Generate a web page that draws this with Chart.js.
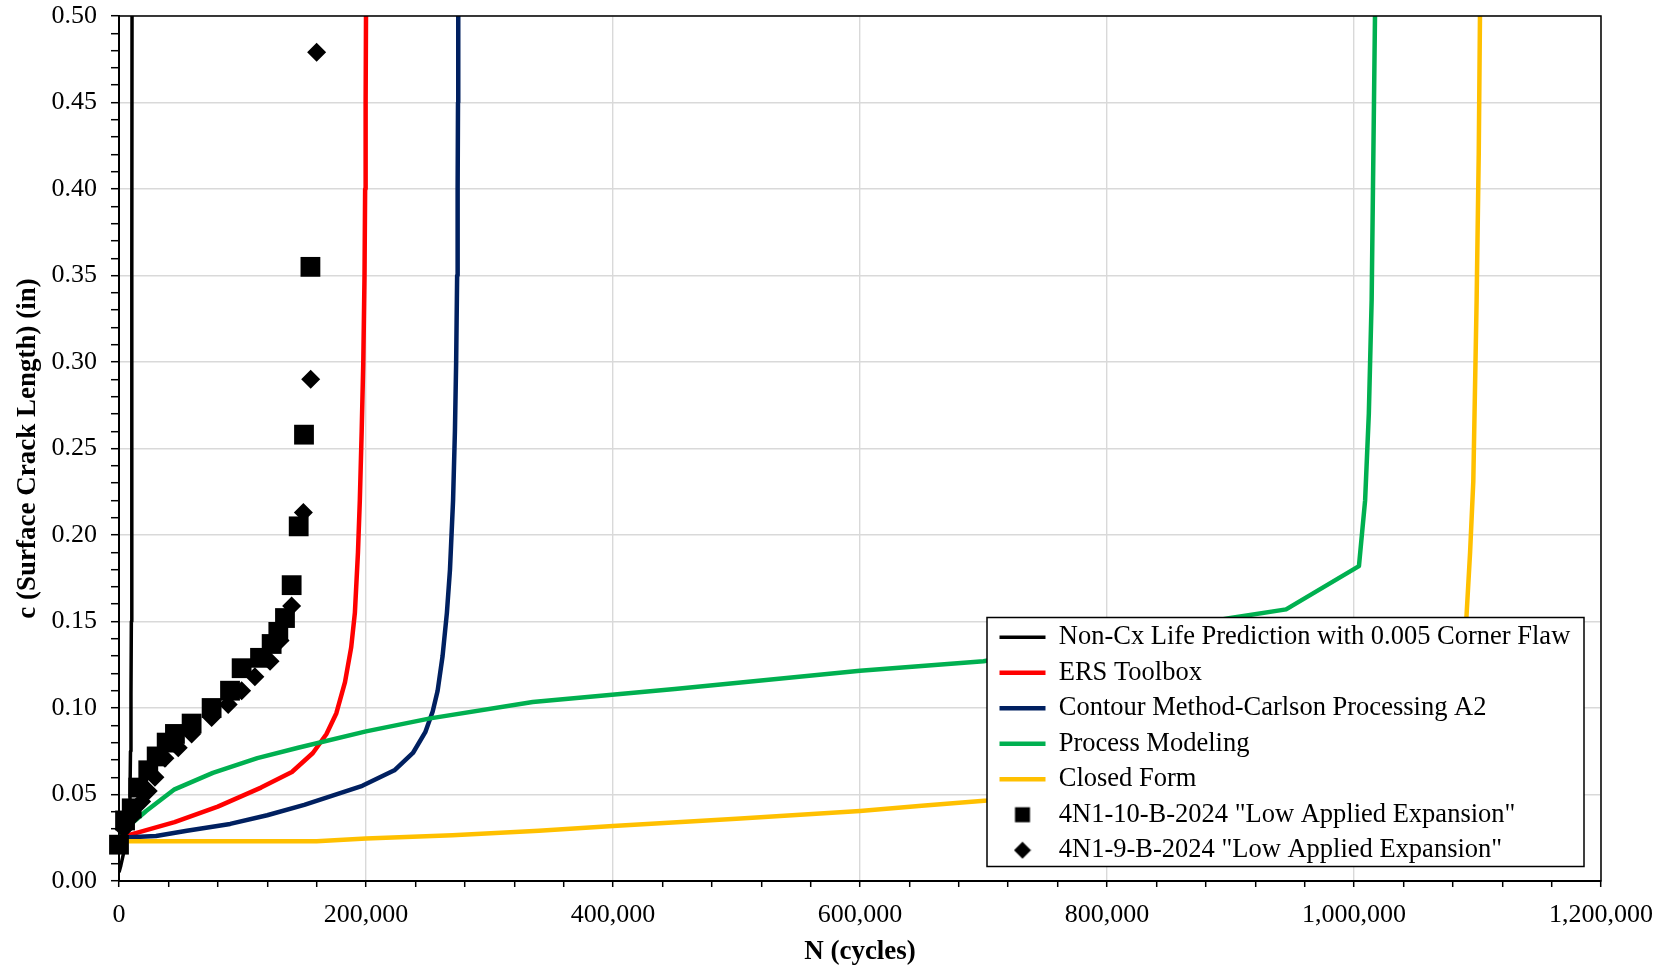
<!DOCTYPE html>
<html>
<head>
<meta charset="utf-8">
<title>Surface crack growth vs. cycles</title>
<script src="https://cdn.jsdelivr.net/npm/chart.js@4.4.1/dist/chart.umd.min.js"></script>
<style>
  html, body { margin: 0; padding: 0; background: #ffffff; }
  canvas { display: block; }
</style>
</head>
<body>
<canvas id="crack" width="1667" height="966"></canvas>
<script>
// ---- Prediction curves: cycles (N) and surface crack length c (in) ----
const nonCxN = [0, 1500, 4000, 6000, 7200, 8300, 8900, 9300, 9700, 10000, 10200, 10400, 10500, 10550];
const nonCxC = [0.005, 0.009, 0.017, 0.025, 0.030, 0.040, 0.050, 0.075, 0.108, 0.150, 0.190, 0.250, 0.350, 0.500];

const ersN = [0, 20000, 45000, 80000, 115000, 140000, 157000, 168000, 176000, 183000, 188000, 191000, 193500, 195000, 196500, 197800, 198800, 199300, 199700, 200000];
const ersC = [0.025, 0.029, 0.034, 0.043, 0.054, 0.063, 0.074, 0.085, 0.097, 0.115, 0.135, 0.155, 0.190, 0.220, 0.260, 0.300, 0.350, 0.400, 0.450, 0.500];

const contourN = [0, 30000, 55000, 90000, 120000, 150000, 197000, 223000, 238000, 248000, 254000, 258000, 262000, 265500, 268000, 270500, 272000, 273000, 273800, 274200, 274500, 274700];
const contourC = [0.025, 0.026, 0.029, 0.033, 0.038, 0.044, 0.055, 0.064, 0.074, 0.086, 0.098, 0.110, 0.130, 0.155, 0.180, 0.220, 0.260, 0.300, 0.350, 0.400, 0.450, 0.500];

const processN = [0, 10000, 22000, 45000, 76000, 112000, 145000, 200000, 252000, 335000, 450000, 600000, 700000, 900000, 945000, 1004000, 1009000, 1012000, 1014300, 1017000];
const processC = [0.025, 0.033, 0.0405, 0.053, 0.0625, 0.071, 0.077, 0.0865, 0.094, 0.1035, 0.111, 0.1215, 0.127, 0.152, 0.157, 0.182, 0.220, 0.270, 0.336, 0.500];

const closedN = [0, 160000, 200000, 270000, 340000, 400000, 500000, 600000, 650000, 703000, 1000000, 1080000, 1091000, 1094000, 1096600, 1099300, 1101000, 1102000];
const closedC = [0.023, 0.023, 0.0245, 0.0265, 0.029, 0.0318, 0.036, 0.0405, 0.0435, 0.0465, 0.070, 0.120, 0.152, 0.190, 0.231, 0.336, 0.420, 0.500];

// ---- Test measurements ----
const spec10N = [0, 4900, 10300, 15600, 23700, 30500, 38600, 45300, 58800, 75000, 89900, 99300, 114200, 123600, 129000, 134400, 139800, 145500, 149800, 155000];
const spec10C = [0.021, 0.035, 0.042, 0.054, 0.064, 0.072, 0.080, 0.085, 0.091, 0.100, 0.110, 0.123, 0.129, 0.137, 0.144, 0.152, 0.171, 0.205, 0.258, 0.355];

const spec9N = [4000, 10300, 18300, 23700, 29100, 37200, 48000, 58800, 75000, 88400, 99300, 110000, 122300, 130400, 139800, 149300, 155200, 160000];
const spec9C = [0.030, 0.037, 0.046, 0.052, 0.060, 0.071, 0.077, 0.085, 0.0945, 0.102, 0.110, 0.118, 0.127, 0.139, 0.159, 0.213, 0.290, 0.479];

// ---- Axis ranges and tick spacing ----
const xMin = 0, xMax = 1200000, xMinorStep = 40000, xMajorStep = 200000;
const yMin = 0, yMax = 0.5, yMinorStep = 0.01, yMajorStep = 0.05;

const seriesNames = [
  'Non-Cx Life Prediction with 0.005 Corner Flaw',
  'ERS Toolbox',
  'Contour Method-Carlson Processing A2',
  'Process Modeling',
  'Closed Form',
  '4N1-10-B-2024 "Low Applied Expansion"',
  '4N1-9-B-2024 "Low Applied Expansion"'
];

const FAMILY = "'Liberation Serif', 'Times New Roman', serif";

function toPoints(xs, ys) {
  return xs.map((x, i) => ({ x: x, y: ys[i] }));
}

function isMultiple(v, step) {
  const k = Math.round(v / step);
  return Math.abs(k * step - v) < step * 1e-6;
}

// Small icons for the marker entries of the legend
function markerIcon(kind) {
  const cv = document.createElement('canvas');
  cv.width = 18; cv.height = 18;
  const g = cv.getContext('2d');
  g.fillStyle = '#000000';
  if (kind === 'square') {
    g.fillRect(1.5, 1.5, 15, 15);
  } else {
    g.beginPath();
    g.moveTo(9, 0.5); g.lineTo(17.5, 9); g.lineTo(9, 17.5); g.lineTo(0.5, 9);
    g.closePath(); g.fill();
  }
  return cv;
}

function lineSet(i, xs, ys, color, width) {
  return {
    label: seriesNames[i],
    data: toPoints(xs, ys),
    showLine: true,
    borderColor: color,
    backgroundColor: color,
    borderWidth: width,
    borderJoinStyle: 'round',
    pointRadius: 0,
    pointHoverRadius: 0,
    tension: 0,
    order: 6 - i
  };
}

function markerSet(i, xs, ys, style, radius, icon) {
  return {
    label: seriesNames[i],
    data: toPoints(xs, ys),
    showLine: false,
    pointStyle: style,
    pointRadius: radius,
    pointHoverRadius: radius,
    pointBackgroundColor: '#000000',
    pointBorderColor: '#000000',
    pointBorderWidth: 0,
    borderColor: '#000000',
    backgroundColor: '#000000',
    clip: false,
    legendIcon: icon,
    order: 6 - i
  };
}

const datasets = [
  lineSet(0, nonCxN, nonCxC, '#000000', 3.5),
  lineSet(1, ersN, ersC, '#FF0000', 4.5),
  lineSet(2, contourN, contourC, '#002060', 4.5),
  lineSet(3, processN, processC, '#00B050', 4.5),
  lineSet(4, closedN, closedC, '#FFC000', 4.5),
  markerSet(5, spec10N, spec10C, 'rect', 14, markerIcon('square')),
  markerSet(6, spec9N, spec9C, 'rectRot', 9.5, markerIcon('diamond'))
];

// Legend box geometry, measured from the plot area's lower-right corner
const LEGEND_BOX = { fromRight: 17, fromBottom: 14.5, width: 597, height: 249 };

// Keeps the legend from taking layout space, then places it inside the plot
// and redraws it on a white panel above the data.
const legendInPlot = {
  id: 'legendInPlot',
  beforeLayout(chart) {
    const lg = chart.legend;
    if (lg && !lg._zeroFit) {
      const fit = lg.fit;
      lg.fit = function () { fit.call(this); this.width = 0; this.height = 0; };
      lg._zeroFit = true;
    }
  },
  afterLayout(chart) {
    const lg = chart.legend;
    const ca = chart.chartArea;
    const boxLeft = ca.right - LEGEND_BOX.fromRight - LEGEND_BOX.width;
    const boxTop = ca.bottom - LEGEND_BOX.fromBottom - LEGEND_BOX.height;
    chart.$legendBox = { x: boxLeft, y: boxTop };
    lg.left = boxLeft + 3.5;
    lg.top = boxTop - 2.5;
    lg.width = LEGEND_BOX.width;
    lg.height = LEGEND_BOX.height + 30;
    lg.right = lg.left + lg.width;
    lg.bottom = lg.top + lg.height;
  },
  afterDatasetsDraw(chart) {
    const ctx = chart.ctx;
    const ca = chart.chartArea;
    ctx.save();
    // plot frame
    ctx.strokeStyle = '#000000';
    ctx.lineWidth = 1.5;
    ctx.strokeRect(ca.left, ca.top, ca.right - ca.left, ca.bottom - ca.top);
    // legend panel
    const b = chart.$legendBox;
    ctx.fillStyle = '#ffffff';
    ctx.fillRect(b.x, b.y, LEGEND_BOX.width, LEGEND_BOX.height);
    ctx.lineWidth = 1.5;
    ctx.strokeRect(b.x, b.y, LEGEND_BOX.width, LEGEND_BOX.height);
    ctx.restore();
    chart.legend.draw();
  }
};

const ctx = document.getElementById('crack').getContext('2d');

new Chart(ctx, {
  type: 'scatter',
  data: { datasets: datasets },
  plugins: [legendInPlot],
  options: {
    responsive: false,
    devicePixelRatio: 1,
    animation: false,
    events: [],
    layout: { padding: { left: 0, right: 66, top: 16, bottom: 0 } },
    plugins: {
      tooltip: { enabled: false },
      legend: {
        display: true,
        position: 'right',
        align: 'start',
        labels: {
          usePointStyle: true,
          pointStyleWidth: 46,
          boxHeight: 26.5,
          padding: 9,
          color: '#000000',
          font: { family: FAMILY, size: 26.5 },
          generateLabels(chart) {
            return chart.data.datasets.map((ds, i) => ({
              text: ds.label,
              datasetIndex: i,
              fontColor: '#000000',
              hidden: !chart.isDatasetVisible(i),
              lineWidth: ds.showLine ? ds.borderWidth : 0,
              strokeStyle: ds.borderColor,
              fillStyle: ds.borderColor,
              lineCap: 'butt',
              pointStyle: ds.legendIcon || 'line',
              rotation: 0
            }));
          }
        }
      }
    },
    scales: {
      x: {
        type: 'linear',
        min: xMin,
        max: xMax,
        afterFit(scale) { scale.height = 85; scale.paddingLeft = 0; scale.paddingRight = 0; },
        border: { display: true, color: '#000000', width: 2 },
        grid: {
          color: (c) => (c.tick && isMultiple(c.tick.value, xMajorStep)) ? '#d9d9d9' : 'rgba(0,0,0,0)',
          lineWidth: 1.4,
          drawTicks: true,
          tickLength: 6,
          tickColor: '#000000',
          tickWidth: 1.5
        },
        ticks: {
          stepSize: xMinorStep,
          autoSkip: false,
          maxRotation: 0,
          padding: 13,
          color: '#000000',
          font: { family: FAMILY, size: 26 },
          callback: (v) => isMultiple(v, xMajorStep) ? Math.round(v).toLocaleString('en-US') : ''
        },
        title: {
          display: true,
          text: 'N (cycles)',
          color: '#000000',
          font: { family: FAMILY, size: 27, weight: 'bold', lineHeight: 1 },
          padding: { top: 0, bottom: 0 }
        }
      },
      y: {
        type: 'linear',
        min: yMin,
        max: yMax,
        afterFit(scale) { scale.width = 119; scale.paddingTop = 0; scale.paddingBottom = 0; },
        border: { display: true, color: '#000000', width: 2 },
        grid: {
          color: (c) => (c.tick && isMultiple(c.tick.value, yMajorStep)) ? '#d9d9d9' : 'rgba(0,0,0,0)',
          lineWidth: 1.4,
          drawTicks: true,
          tickLength: 8,
          tickColor: '#000000',
          tickWidth: 1.5
        },
        ticks: {
          stepSize: yMinorStep,
          autoSkip: false,
          padding: 14,
          color: '#000000',
          font: { family: FAMILY, size: 26 },
          callback: (v) => isMultiple(v, yMajorStep) ? v.toFixed(2) : ''
        },
        title: {
          display: true,
          text: 'c (Surface Crack Length) (in)',
          color: '#000000',
          font: { family: FAMILY, size: 27, weight: 'bold' },
          padding: { top: 12, bottom: 0 }
        }
      }
    }
  }
});
</script>
</body>
</html>
